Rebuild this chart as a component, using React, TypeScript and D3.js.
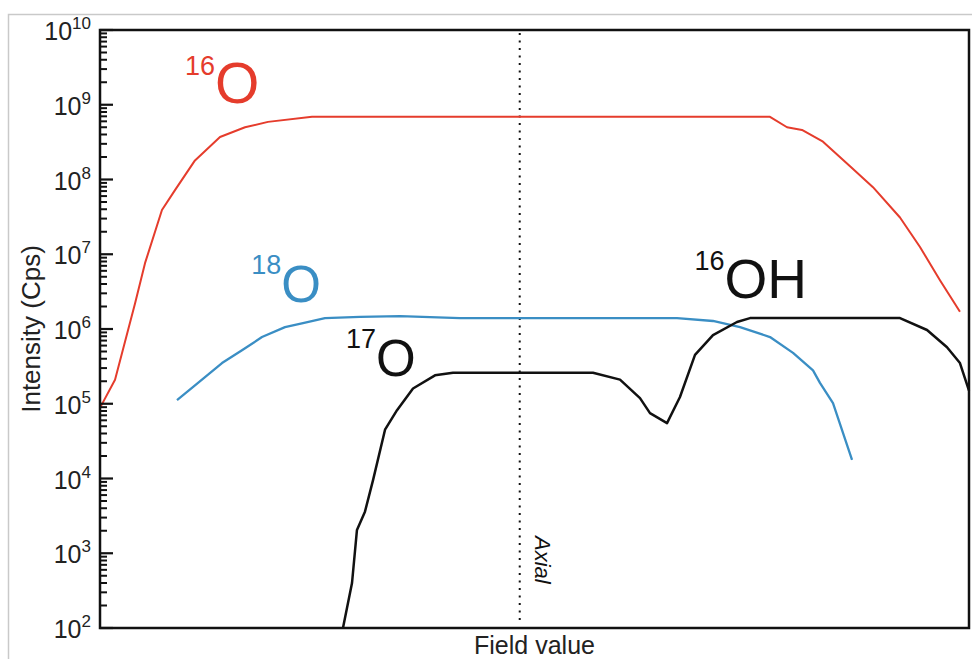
import React from "react";
import * as d3 from "d3";

// Field value (arbitrary units 0..100) and intensity (Cps)
const o16Field = [0, 1.73, 4.03, 5.18, 7.13, 8.63, 10.93, 13.81, 16.69, 19.33, 24.4, 77.1, 79.06, 80.78, 83.2, 86.31, 88.95, 92.06, 94.36, 96.66, 98.96];
const o16Values = [8.8e4, 2.1e5, 2.2e6, 7.6e6, 3.9e7, 7.2e7, 1.8e8, 3.7e8, 5.0e8, 5.9e8, 6.9e8, 6.9e8, 5.0e8, 4.6e8, 3.2e8, 1.5e8, 7.9e7, 3.1e7, 1.25e7, 4.5e6, 1.7e6];

const o18Field = [8.86, 11.28, 14.04, 16.34, 18.64, 21.29, 23.36, 25.89, 29.92, 34.52, 41.43, 66.4, 70.54, 73.65, 77.1, 79.75, 82.05, 82.85, 84.35, 86.54];
const o18Values = [1.12e5, 1.9e5, 3.5e5, 5.2e5, 7.8e5, 1.06e6, 1.2e6, 1.4e6, 1.45e6, 1.49e6, 1.4e6, 1.4e6, 1.28e6, 1.06e6, 7.8e5, 4.8e5, 2.8e5, 1.9e5, 1.02e5, 1.77e4];

const oh17Field = [27.96, 29.0, 29.57, 30.49, 31.42, 32.8, 34.18, 36.02, 38.55, 40.62, 56.73, 59.84, 62.14, 63.29, 65.25, 66.74, 68.47, 70.54, 73.3, 74.8, 92.06, 95.17, 97.47, 98.96, 100];
const oh17Values = [1e2, 4.0e2, 2.05e3, 3.6e3, 9.5e3, 4.5e4, 8.2e4, 1.6e5, 2.4e5, 2.6e5, 2.6e5, 2.1e5, 1.19e5, 7.5e4, 5.5e4, 1.23e5, 4.5e5, 8.3e5, 1.24e6, 1.4e6, 1.4e6, 9.7e5, 5.7e5, 3.5e5, 1.5e5];

const decadeExponents = [2, 3, 4, 5, 6, 7, 8, 9, 10];
const axialField = 48.3;

const labelSup = ["16", "18", "17", "16"];
const labelMain = ["O", "O", "O", "OH"];
const labelField = [9.78, 17.4, 28.3, 68.4];
const labelValue = [1.05e9, 2.3e6, 2.35e5, 2.6e6];
const labelSize = [57, 51, 51, 55];
const labelColor = ["#e53c2c", "#3a8ec4", "#111111", "#111111"];

const RED = "#e53c2c";
const BLUE = "#3a8ec4";

export default function App() {
  const W = 972, H = 659;
  const left = 100, right = 969, top = 30, bottom = 628;
  const x = d3.scaleLinear().domain([0, 100]).range([left, right]);
  const y = d3.scaleLog().domain([1e2, 1e10]).range([bottom, top]);

  const line = d3
    .line<[number, number]>()
    .x((d) => x(d[0]))
    .y((d) => y(d[1]));

  const zip = (a: number[], b: number[]) => a.map((v, i) => [v, b[i]] as [number, number]);

  const minorTicks: number[] = [];
  for (let e = 2; e < 10; e++) {
    for (let m = 2; m <= 9; m++) minorTicks.push(m * Math.pow(10, e));
  }

  const font = "'Liberation Sans', Arial, Helvetica, sans-serif";

  return (
    <svg
      width={W}
      height={H}
      style={{ position: "absolute", left: 0, top: 0, background: "#fff" }}
      fontFamily={font}
    >
      <rect x={0} y={0} width={W} height={H} fill="#fff" />
      <rect x={8.5} y={14.5} width={1000} height={700} fill="none" stroke="#c9c9c9" strokeWidth={1.5} />

      {/* axial dotted line */}
      <line
        x1={x(axialField)}
        x2={x(axialField)}
        y1={top + 3}
        y2={bottom - 6}
        stroke="#111"
        strokeWidth={2}
        strokeDasharray="2,5.5"
      />
      <text
        transform={`translate(${x(axialField) + 15},${536}) rotate(90)`}
        fontSize={22}
        fontStyle="italic"
        fill="#111"
      >
        Axial
      </text>

      {/* series */}
      <path d={line(zip(o16Field, o16Values)) || ""} fill="none" stroke={RED} strokeWidth={2} strokeLinejoin="round" />
      <path d={line(zip(o18Field, o18Values)) || ""} fill="none" stroke={BLUE} strokeWidth={2.3} strokeLinejoin="round" />
      <path d={line(zip(oh17Field, oh17Values)) || ""} fill="none" stroke="#111" strokeWidth={2.5} strokeLinejoin="round" />

      {/* frame */}
      <rect x={left} y={top} width={right - left} height={bottom - top} fill="none" stroke="#111" strokeWidth={2.5} />

      {/* ticks */}
      {minorTicks.map((t, i) => (
        <line key={"m" + i} x1={left} x2={left + 7} y1={y(t)} y2={y(t)} stroke="#111" strokeWidth={2} />
      ))}
      {decadeExponents.map((e) => (
        <line key={"M" + e} x1={left} x2={left + 13} y1={y(Math.pow(10, e))} y2={y(Math.pow(10, e))} stroke="#111" strokeWidth={2.2} />
      ))}
      {decadeExponents.map((e) => (
        <text key={"L" + e} x={91} y={y(Math.pow(10, e)) + 10} textAnchor="end" fill="#222" fontSize={25}>
          <tspan>10</tspan>
          <tspan fontSize={17} dy={-11}>{e}</tspan>
        </text>
      ))}

      {/* axis titles */}
      <text transform={`translate(40,${(top + bottom) / 2}) rotate(-90)`} textAnchor="middle" fontSize={26} fill="#222">
        Intensity (Cps)
      </text>
      <text x={(left + right) / 2} y={654} textAnchor="middle" fontSize={25} fill="#222">
        Field value
      </text>

      {/* series labels */}
      {labelMain.map((m, i) => (
        <text key={"lab" + i} x={x(labelField[i])} y={y(labelValue[i])} fill={labelColor[i]}>
          <tspan fontSize={27} dy={-28}>{labelSup[i]}</tspan>
          <tspan fontSize={labelSize[i]} dy={28}>{m}</tspan>
        </text>
      ))}
    </svg>
  );
}
